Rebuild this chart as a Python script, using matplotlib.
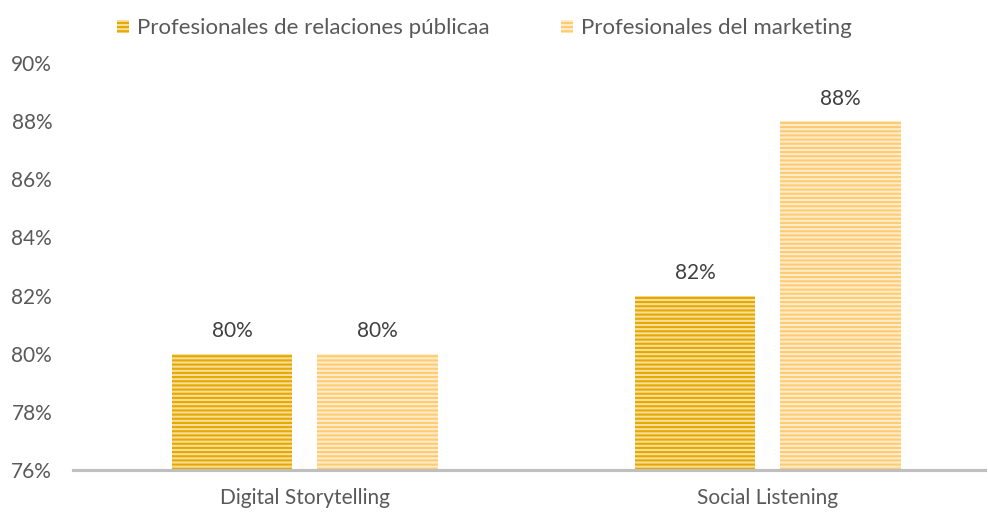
import matplotlib.pyplot as plt
import numpy as np

categories = ['Digital Storytelling', 'Social Listening']
series_names = ['Profesionales de relaciones públicaa', 'Profesionales del marketing']
relaciones = [80, 82]
marketing = [80, 88]
yticks = [76, 78, 80, 82, 84, 86, 88, 90]

plt.rcParams['font.family'] = ['Lato', 'DejaVu Sans']
plt.rcParams['hatch.linewidth'] = 1.5

W, H = 988, 512
fig = plt.figure(figsize=(W / 100, H / 100), dpi=100)
# plot area in pixels: x 73..985, y 63..470
ax = fig.add_axes([73 / W, (H - 470) / H, (985 - 73) / W, (470 - 63) / H])

x = np.arange(len(categories))
w = 0.26
off = 0.157
text_col = '#595959'

b1 = ax.bar(x - off, relaciones, w, color='#F8DE98', edgecolor='#E5A800',
            hatch='----', linewidth=0, label=series_names[0])
b2 = ax.bar(x + off, marketing, w, color='#FFECCC', edgecolor='#FFCB70',
            hatch='----', linewidth=0, label=series_names[1])

for bars, vals in ((b1, relaciones), (b2, marketing)):
    for r, v in zip(bars, vals):
        ax.annotate(f'{v}%', (r.get_x() + r.get_width() / 2, v), xytext=(0, 9),
                    textcoords='offset points', ha='center', va='bottom',
                    fontsize=15, color='#404040')

ax.set_ylim(76, 90)
ax.set_xlim(-0.501, 1.469)
ax.set_yticks(yticks)
ax.set_yticklabels([f'{t}%' for t in yticks], fontsize=15, color=text_col)
ax.set_xticks(x)
ax.set_xticklabels(categories, fontsize=15, color=text_col)
ax.tick_params(axis='both', length=0)
ax.tick_params(axis='x', pad=13)
ax.tick_params(axis='y', pad=15)
for s in ['top', 'right', 'left']:
    ax.spines[s].set_visible(False)
ax.spines['bottom'].set_color('#BFBFBF')
ax.spines['bottom'].set_linewidth(2.25)

fig.legend(handles=[b1, b2], loc='center', bbox_to_anchor=(0.49, 0.945), ncol=2,
           frameon=False, fontsize=16, labelcolor=text_col, handlelength=0.55,
           handleheight=0.55, handletextpad=0.36, columnspacing=3.2)

fig.savefig('out.png', dpi=100)
